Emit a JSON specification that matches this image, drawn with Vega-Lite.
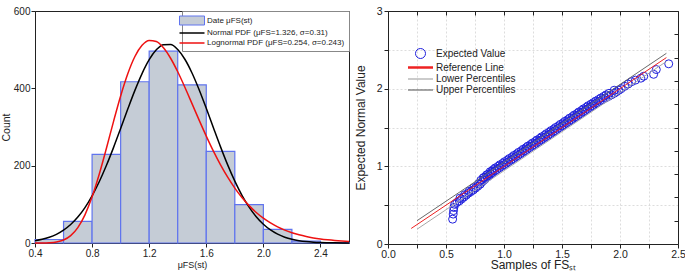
{
  "$schema": "https://vega.github.io/schema/vega-lite/v6.json",
  "padding": {"left": 0, "top": 5, "right": 0, "bottom": 0},
  "spacing": 39,
  "bounds": "flush",
  "resolve": {"scale": {"color": "independent", "x": "independent", "y": "independent", "shape": "independent", "strokeWidth": "independent", "fill": "independent", "stroke": "independent"}, "legend": {"color": "independent", "shape": "independent", "strokeWidth": "independent", "fill": "independent", "stroke": "independent"}},
  "config": {
    "font": "Liberation Sans",
    "view": {"stroke": "#222", "strokeWidth": 1},
    "axis": {"labelFont": "Liberation Sans", "titleFont": "Liberation Sans", "labelColor": "#222", "titleColor": "#222", "tickColor": "#222", "domainColor": "#222", "titleFontWeight": "normal", "grid": false}
  },
  "datasets": {
    "hist": [
      {"start": 0.4, "end": 0.6, "count": 9},
      {"start": 0.6, "end": 0.8, "count": 56},
      {"start": 0.8, "end": 1.0, "count": 229},
      {"start": 1.0, "end": 1.2, "count": 417},
      {"start": 1.2, "end": 1.4, "count": 496},
      {"start": 1.4, "end": 1.6, "count": 409},
      {"start": 1.6, "end": 1.8, "count": 237},
      {"start": 1.8, "end": 2.0, "count": 99},
      {"start": 2.0, "end": 2.2, "count": 35},
      {"start": 2.2, "end": 2.4, "count": 5},
      {"start": 2.4, "end": 2.6, "count": 1}
    ],
    "curves": [
      {"x": 0.4, "count": 5.9, "series": "Normal PDF (μFS=1.326, σ=0.31)"},
      {"x": 0.45, "count": 9.5, "series": "Normal PDF (μFS=1.326, σ=0.31)"},
      {"x": 0.5, "count": 14.8, "series": "Normal PDF (μFS=1.326, σ=0.31)"},
      {"x": 0.55, "count": 22.4, "series": "Normal PDF (μFS=1.326, σ=0.31)"},
      {"x": 0.6, "count": 33.2, "series": "Normal PDF (μFS=1.326, σ=0.31)"},
      {"x": 0.65, "count": 47.7, "series": "Normal PDF (μFS=1.326, σ=0.31)"},
      {"x": 0.7, "count": 67.0, "series": "Normal PDF (μFS=1.326, σ=0.31)"},
      {"x": 0.75, "count": 91.6, "series": "Normal PDF (μFS=1.326, σ=0.31)"},
      {"x": 0.8, "count": 122.0, "series": "Normal PDF (μFS=1.326, σ=0.31)"},
      {"x": 0.85, "count": 158.4, "series": "Normal PDF (μFS=1.326, σ=0.31)"},
      {"x": 0.9, "count": 200.3, "series": "Normal PDF (μFS=1.326, σ=0.31)"},
      {"x": 0.95, "count": 246.7, "series": "Normal PDF (μFS=1.326, σ=0.31)"},
      {"x": 1.0, "count": 296.1, "series": "Normal PDF (μFS=1.326, σ=0.31)"},
      {"x": 1.05, "count": 346.4, "series": "Normal PDF (μFS=1.326, σ=0.31)"},
      {"x": 1.1, "count": 394.7, "series": "Normal PDF (μFS=1.326, σ=0.31)"},
      {"x": 1.15, "count": 438.2, "series": "Normal PDF (μFS=1.326, σ=0.31)"},
      {"x": 1.2, "count": 474.0, "series": "Normal PDF (μFS=1.326, σ=0.31)"},
      {"x": 1.25, "count": 499.6, "series": "Normal PDF (μFS=1.326, σ=0.31)"},
      {"x": 1.3, "count": 513.0, "series": "Normal PDF (μFS=1.326, σ=0.31)"},
      {"x": 1.35, "count": 513.3, "series": "Normal PDF (μFS=1.326, σ=0.31)"},
      {"x": 1.4, "count": 500.3, "series": "Normal PDF (μFS=1.326, σ=0.31)"},
      {"x": 1.45, "count": 475.2, "series": "Normal PDF (μFS=1.326, σ=0.31)"},
      {"x": 1.5, "count": 439.8, "series": "Normal PDF (μFS=1.326, σ=0.31)"},
      {"x": 1.55, "count": 396.5, "series": "Normal PDF (μFS=1.326, σ=0.31)"},
      {"x": 1.6, "count": 348.4, "series": "Normal PDF (μFS=1.326, σ=0.31)"},
      {"x": 1.65, "count": 298.1, "series": "Normal PDF (μFS=1.326, σ=0.31)"},
      {"x": 1.7, "count": 248.6, "series": "Normal PDF (μFS=1.326, σ=0.31)"},
      {"x": 1.75, "count": 202.0, "series": "Normal PDF (μFS=1.326, σ=0.31)"},
      {"x": 1.8, "count": 159.9, "series": "Normal PDF (μFS=1.326, σ=0.31)"},
      {"x": 1.85, "count": 123.4, "series": "Normal PDF (μFS=1.326, σ=0.31)"},
      {"x": 1.9, "count": 92.7, "series": "Normal PDF (μFS=1.326, σ=0.31)"},
      {"x": 1.95, "count": 67.9, "series": "Normal PDF (μFS=1.326, σ=0.31)"},
      {"x": 2.0, "count": 48.4, "series": "Normal PDF (μFS=1.326, σ=0.31)"},
      {"x": 2.05, "count": 33.7, "series": "Normal PDF (μFS=1.326, σ=0.31)"},
      {"x": 2.1, "count": 22.8, "series": "Normal PDF (μFS=1.326, σ=0.31)"},
      {"x": 2.15, "count": 15.0, "series": "Normal PDF (μFS=1.326, σ=0.31)"},
      {"x": 2.2, "count": 9.7, "series": "Normal PDF (μFS=1.326, σ=0.31)"},
      {"x": 2.25, "count": 6.1, "series": "Normal PDF (μFS=1.326, σ=0.31)"},
      {"x": 2.3, "count": 3.7, "series": "Normal PDF (μFS=1.326, σ=0.31)"},
      {"x": 2.35, "count": 2.2, "series": "Normal PDF (μFS=1.326, σ=0.31)"},
      {"x": 2.4, "count": 1.3, "series": "Normal PDF (μFS=1.326, σ=0.31)"},
      {"x": 2.5, "count": 0.4, "series": "Normal PDF (μFS=1.326, σ=0.31)"},
      {"x": 2.6, "count": 0.1, "series": "Normal PDF (μFS=1.326, σ=0.31)"},
      {"x": 0.4, "count": 0.0, "series": "Lognormal PDF (μFS=0.254, σ=0.243)"},
      {"x": 0.45, "count": 0.1, "series": "Lognormal PDF (μFS=0.254, σ=0.243)"},
      {"x": 0.5, "count": 0.7, "series": "Lognormal PDF (μFS=0.254, σ=0.243)"},
      {"x": 0.55, "count": 2.6, "series": "Lognormal PDF (μFS=0.254, σ=0.243)"},
      {"x": 0.6, "count": 7.7, "series": "Lognormal PDF (μFS=0.254, σ=0.243)"},
      {"x": 0.65, "count": 19.1, "series": "Lognormal PDF (μFS=0.254, σ=0.243)"},
      {"x": 0.7, "count": 39.9, "series": "Lognormal PDF (μFS=0.254, σ=0.243)"},
      {"x": 0.75, "count": 72.9, "series": "Lognormal PDF (μFS=0.254, σ=0.243)"},
      {"x": 0.8, "count": 119.4, "series": "Lognormal PDF (μFS=0.254, σ=0.243)"},
      {"x": 0.85, "count": 177.9, "series": "Lognormal PDF (μFS=0.254, σ=0.243)"},
      {"x": 0.9, "count": 244.4, "series": "Lognormal PDF (μFS=0.254, σ=0.243)"},
      {"x": 0.95, "count": 314.0, "series": "Lognormal PDF (μFS=0.254, σ=0.243)"},
      {"x": 1.0, "count": 380.3, "series": "Lognormal PDF (μFS=0.254, σ=0.243)"},
      {"x": 1.05, "count": 437.8, "series": "Lognormal PDF (μFS=0.254, σ=0.243)"},
      {"x": 1.1, "count": 482.4, "series": "Lognormal PDF (μFS=0.254, σ=0.243)"},
      {"x": 1.15, "count": 511.3, "series": "Lognormal PDF (μFS=0.254, σ=0.243)"},
      {"x": 1.2, "count": 523.9, "series": "Lognormal PDF (μFS=0.254, σ=0.243)"},
      {"x": 1.25, "count": 521.2, "series": "Lognormal PDF (μFS=0.254, σ=0.243)"},
      {"x": 1.3, "count": 504.9, "series": "Lognormal PDF (μFS=0.254, σ=0.243)"},
      {"x": 1.35, "count": 477.8, "series": "Lognormal PDF (μFS=0.254, σ=0.243)"},
      {"x": 1.4, "count": 442.8, "series": "Lognormal PDF (μFS=0.254, σ=0.243)"},
      {"x": 1.45, "count": 402.9, "series": "Lognormal PDF (μFS=0.254, σ=0.243)"},
      {"x": 1.5, "count": 360.5, "series": "Lognormal PDF (μFS=0.254, σ=0.243)"},
      {"x": 1.55, "count": 317.8, "series": "Lognormal PDF (μFS=0.254, σ=0.243)"},
      {"x": 1.6, "count": 276.5, "series": "Lognormal PDF (μFS=0.254, σ=0.243)"},
      {"x": 1.65, "count": 237.6, "series": "Lognormal PDF (μFS=0.254, σ=0.243)"},
      {"x": 1.7, "count": 202.1, "series": "Lognormal PDF (μFS=0.254, σ=0.243)"},
      {"x": 1.75, "count": 170.2, "series": "Lognormal PDF (μFS=0.254, σ=0.243)"},
      {"x": 1.8, "count": 142.0, "series": "Lognormal PDF (μFS=0.254, σ=0.243)"},
      {"x": 1.85, "count": 117.6, "series": "Lognormal PDF (μFS=0.254, σ=0.243)"},
      {"x": 1.9, "count": 96.7, "series": "Lognormal PDF (μFS=0.254, σ=0.243)"},
      {"x": 1.95, "count": 79.0, "series": "Lognormal PDF (μFS=0.254, σ=0.243)"},
      {"x": 2.0, "count": 64.1, "series": "Lognormal PDF (μFS=0.254, σ=0.243)"},
      {"x": 2.05, "count": 51.8, "series": "Lognormal PDF (μFS=0.254, σ=0.243)"},
      {"x": 2.1, "count": 41.6, "series": "Lognormal PDF (μFS=0.254, σ=0.243)"},
      {"x": 2.15, "count": 33.3, "series": "Lognormal PDF (μFS=0.254, σ=0.243)"},
      {"x": 2.2, "count": 26.6, "series": "Lognormal PDF (μFS=0.254, σ=0.243)"},
      {"x": 2.25, "count": 21.1, "series": "Lognormal PDF (μFS=0.254, σ=0.243)"},
      {"x": 2.3, "count": 16.7, "series": "Lognormal PDF (μFS=0.254, σ=0.243)"},
      {"x": 2.35, "count": 13.2, "series": "Lognormal PDF (μFS=0.254, σ=0.243)"},
      {"x": 2.4, "count": 10.4, "series": "Lognormal PDF (μFS=0.254, σ=0.243)"},
      {"x": 2.45, "count": 8.2, "series": "Lognormal PDF (μFS=0.254, σ=0.243)"},
      {"x": 2.5, "count": 6.4, "series": "Lognormal PDF (μFS=0.254, σ=0.243)"},
      {"x": 2.55, "count": 5.0, "series": "Lognormal PDF (μFS=0.254, σ=0.243)"},
      {"x": 2.6, "count": 3.9, "series": "Lognormal PDF (μFS=0.254, σ=0.243)"}
    ],
    "qq": [
      {"x": 0.557, "y": 0.32}, {"x": 0.562, "y": 0.385}, {"x": 0.565, "y": 0.43}, {"x": 0.568, "y": 0.47},
      {"x": 0.575, "y": 0.51}, {"x": 0.595, "y": 0.535}, {"x": 0.615, "y": 0.555}, {"x": 0.635, "y": 0.58},
      {"x": 0.655, "y": 0.605}, {"x": 0.675, "y": 0.63}, {"x": 0.695, "y": 0.655}, {"x": 0.715, "y": 0.675},
      {"x": 0.735, "y": 0.695}, {"x": 0.755, "y": 0.72}, {"x": 0.775, "y": 0.745}, {"x": 0.795, "y": 0.77},
      {"x": 0.81, "y": 0.80}, {"x": 0.825, "y": 0.82}, {"x": 0.84, "y": 0.84}, {"x": 0.855, "y": 0.86},
      {"x": 0.87, "y": 0.88}, {"x": 0.885, "y": 0.90}, {"x": 0.90, "y": 0.92}, {"x": 0.92, "y": 0.94},
      {"x": 0.94, "y": 0.96}, {"x": 0.96, "y": 0.98}, {"x": 0.98, "y": 1.00}, {"x": 1.00, "y": 1.02},
      {"x": 1.02, "y": 1.04}, {"x": 1.04, "y": 1.06}, {"x": 1.06, "y": 1.08}, {"x": 1.08, "y": 1.10},
      {"x": 1.10, "y": 1.12}, {"x": 1.12, "y": 1.14}, {"x": 1.14, "y": 1.16}, {"x": 1.16, "y": 1.18},
      {"x": 1.18, "y": 1.20}, {"x": 1.20, "y": 1.22}, {"x": 1.22, "y": 1.24}, {"x": 1.24, "y": 1.26},
      {"x": 1.26, "y": 1.28}, {"x": 1.28, "y": 1.30}, {"x": 1.30, "y": 1.32}, {"x": 1.32, "y": 1.34},
      {"x": 1.34, "y": 1.36}, {"x": 1.36, "y": 1.38}, {"x": 1.38, "y": 1.40}, {"x": 1.40, "y": 1.42},
      {"x": 1.42, "y": 1.44}, {"x": 1.44, "y": 1.46}, {"x": 1.46, "y": 1.48}, {"x": 1.48, "y": 1.50},
      {"x": 1.50, "y": 1.52}, {"x": 1.52, "y": 1.54}, {"x": 1.54, "y": 1.56}, {"x": 1.56, "y": 1.58},
      {"x": 1.58, "y": 1.60}, {"x": 1.60, "y": 1.62}, {"x": 1.62, "y": 1.64}, {"x": 1.64, "y": 1.66},
      {"x": 1.66, "y": 1.68}, {"x": 1.68, "y": 1.70}, {"x": 1.70, "y": 1.72}, {"x": 1.72, "y": 1.74},
      {"x": 1.74, "y": 1.76}, {"x": 1.76, "y": 1.78}, {"x": 1.78, "y": 1.80}, {"x": 1.80, "y": 1.82},
      {"x": 1.825, "y": 1.84}, {"x": 1.85, "y": 1.86}, {"x": 1.875, "y": 1.88}, {"x": 1.90, "y": 1.90},
      {"x": 1.925, "y": 1.92}, {"x": 1.95, "y": 1.94}, {"x": 1.97, "y": 1.96}, {"x": 1.99, "y": 1.98},
      {"x": 2.01, "y": 2.00}, {"x": 2.04, "y": 2.03}, {"x": 2.07, "y": 2.06}, {"x": 2.10, "y": 2.09},
      {"x": 2.133, "y": 2.11}, {"x": 2.18, "y": 2.135}, {"x": 2.205, "y": 2.16}, {"x": 2.29, "y": 2.185},
      {"x": 2.313, "y": 2.246}, {"x": 2.42, "y": 2.32},
      {"x": 0.62, "y": 0.59}, {"x": 0.66, "y": 0.635}, {"x": 0.70, "y": 0.68}, {"x": 0.74, "y": 0.725},
      {"x": 0.78, "y": 0.775}, {"x": 0.80, "y": 0.82}, {"x": 0.83, "y": 0.86}, {"x": 0.865, "y": 0.90},
      {"x": 0.895, "y": 0.94}, {"x": 0.925, "y": 0.98}, {"x": 0.965, "y": 1.02}, {"x": 1.005, "y": 1.06},
      {"x": 1.045, "y": 1.10}, {"x": 1.085, "y": 1.14}, {"x": 1.125, "y": 1.18}, {"x": 1.165, "y": 1.22},
      {"x": 1.205, "y": 1.26}, {"x": 1.245, "y": 1.30}, {"x": 1.285, "y": 1.34}, {"x": 1.325, "y": 1.38},
      {"x": 1.365, "y": 1.42}, {"x": 1.405, "y": 1.46}, {"x": 1.445, "y": 1.50}, {"x": 1.485, "y": 1.54},
      {"x": 1.525, "y": 1.58}, {"x": 1.565, "y": 1.62}, {"x": 1.605, "y": 1.66}, {"x": 1.645, "y": 1.70},
      {"x": 1.685, "y": 1.74}, {"x": 1.725, "y": 1.78}, {"x": 1.77, "y": 1.82}, {"x": 1.815, "y": 1.86},
      {"x": 1.86, "y": 1.90}, {"x": 1.905, "y": 1.94}, {"x": 1.95, "y": 1.98},
      {"x": 0.82, "y": 0.85}, {"x": 0.85, "y": 0.89}, {"x": 0.88, "y": 0.93}, {"x": 0.91, "y": 0.96},
      {"x": 0.95, "y": 1.00}, {"x": 0.99, "y": 1.04}, {"x": 1.03, "y": 1.08}, {"x": 1.07, "y": 1.12},
      {"x": 1.11, "y": 1.16}, {"x": 1.15, "y": 1.20}, {"x": 1.19, "y": 1.24}, {"x": 1.23, "y": 1.28},
      {"x": 1.27, "y": 1.32}, {"x": 1.31, "y": 1.36}, {"x": 1.35, "y": 1.40}, {"x": 1.39, "y": 1.44},
      {"x": 1.43, "y": 1.48}, {"x": 1.47, "y": 1.52}, {"x": 1.51, "y": 1.56}, {"x": 1.55, "y": 1.60},
      {"x": 1.59, "y": 1.64}, {"x": 1.63, "y": 1.68}, {"x": 1.67, "y": 1.72}, {"x": 1.71, "y": 1.76},
      {"x": 1.75, "y": 1.80}, {"x": 1.79, "y": 1.84}, {"x": 1.835, "y": 1.88}, {"x": 1.88, "y": 1.92}
    ],
    "refs": [
      {"x": 0.2, "y": 0.2, "series": "Reference Line"},
      {"x": 2.4, "y": 2.4, "series": "Reference Line"},
      {"x": 0.25, "y": 0.19, "series": "Lower Percentiles"},
      {"x": 2.4, "y": 2.35, "series": "Lower Percentiles"},
      {"x": 0.25, "y": 0.3, "series": "Upper Percentiles"},
      {"x": 2.4, "y": 2.455, "series": "Upper Percentiles"}
    ]
  },
  "hconcat": [
    {
      "width": 314,
      "height": 232,
      "layer": [
        {
          "data": {"name": "hist"},
          "mark": {"type": "rect", "fill": "#c5ccd6", "stroke": "#6074ee", "strokeWidth": 1.2},
          "encoding": {
            "x": {"field": "start", "type": "quantitative", "scale": {"domain": [0.4, 2.6], "nice": false},
              "axis": {"title": "μFS(st)", "titleFontSize": 9, "titlePadding": 2, "labelFontSize": 10, "tickSize": 4, "labelPadding": 1,
                "values": [0.4, 0.6, 0.8, 1.0, 1.2, 1.4, 1.6, 1.8, 2.0, 2.2, 2.4, 2.6], "format": ".1f", "labelFlush": false}},
            "x2": {"field": "end"},
            "y": {"field": "count", "type": "quantitative", "scale": {"domain": [0, 600], "nice": false},
              "axis": {"title": "Count", "titleFontSize": 10.5, "titlePadding": 2, "labelFontSize": 10, "labelPadding": 1,
                "values": [0, 100, 200, 300, 400, 500, 600],
                "labelExpr": "datum.value % 200 === 0 ? datum.label : ''",
                "tickSize": {"condition": {"test": "datum.value % 200 === 0", "value": 4}, "value": 2.5}}},
            "y2": {"datum": 0}
          }
        },
        {
          "data": {"name": "curves"},
          "mark": {"type": "line", "strokeWidth": 1.5, "interpolate": "monotone"},
          "encoding": {
            "x": {"field": "x", "type": "quantitative"},
            "y": {"field": "count", "type": "quantitative"},
            "color": {"field": "series", "type": "nominal", "legend": null,
              "scale": {"domain": ["Normal PDF (μFS=1.326, σ=0.31)", "Lognormal PDF (μFS=0.254, σ=0.243)"], "range": ["#000000", "#ee1111"]}}
          }
        },
        {
          "data": {"name": "curves"},
          "mark": {"type": "point", "opacity": 0, "size": 64},
          "encoding": {
            "x": {"field": "x", "type": "quantitative"},
            "y": {"field": "count", "type": "quantitative"},
            "fill": {"field": "series", "type": "nominal",
              "scale": {"domain": ["Date μFS(st)", "Normal PDF (μFS=1.326, σ=0.31)", "Lognormal PDF (μFS=0.254, σ=0.243)"],
                "range": ["#c5ccd6", "transparent", "transparent"]},
              "legend": {"title": null, "orient": "top-right", "offset": 0, "strokeColor": "#888", "padding": 4,
                "labelFontSize": 8, "labelFont": "Liberation Sans", "labelColor": "#222", "rowPadding": 0, "labelOffset": 9, "symbolOpacity": 1}},
            "stroke": {"field": "series", "type": "nominal",
              "scale": {"domain": ["Date μFS(st)", "Normal PDF (μFS=1.326, σ=0.31)", "Lognormal PDF (μFS=0.254, σ=0.243)"],
                "range": ["#6074ee", "#000000", "#ee1111"]},
              "legend": {"title": null, "orient": "top-right", "offset": 0, "strokeColor": "#888", "padding": 4,
                "labelFontSize": 8, "labelFont": "Liberation Sans", "labelColor": "#222", "rowPadding": 0, "labelOffset": 9, "symbolOpacity": 1}},
            "shape": {"field": "series", "type": "nominal",
              "scale": {"domain": ["Date μFS(st)", "Normal PDF (μFS=1.326, σ=0.31)", "Lognormal PDF (μFS=0.254, σ=0.243)"],
                "range": ["M-2.5,-0.9H2.5V0.9H-2.5Z", "M-2.5,0H2.5", "M-2.5,0H2.5"]},
              "legend": {"title": null, "orient": "top-right", "offset": 0, "strokeColor": "#888", "padding": 4,
                "labelFontSize": 8, "labelFont": "Liberation Sans", "labelColor": "#222", "rowPadding": 0, "labelOffset": 9, "symbolOpacity": 1}},
            "strokeWidth": {"field": "series", "type": "nominal",
              "scale": {"type": "ordinal", "domain": ["Date μFS(st)", "Normal PDF (μFS=1.326, σ=0.31)", "Lognormal PDF (μFS=0.254, σ=0.243)"],
                "range": [1, 1.5, 1.5]},
              "legend": {"title": null, "orient": "top-right", "offset": 0, "strokeColor": "#888", "padding": 4,
                "labelFontSize": 8, "labelFont": "Liberation Sans", "labelColor": "#222", "rowPadding": 0, "labelOffset": 9, "symbolOpacity": 1}}
          }
        },
        {
          "mark": {"type": "text", "font": "Liberation Serif", "fontSize": 22, "align": "center", "baseline": "middle", "color": "#111"},
          "encoding": {
            "x": {"datum": 0.564, "type": "quantitative"},
            "y": {"datum": 545, "type": "quantitative"},
            "text": {"value": "(a)"}
          }
        }
      ]
    },
    {
      "width": 290,
      "height": 233,
      "resolve": {"axis": {"x": "independent", "y": "independent"}},
      "layer": [
        {
          "data": {"name": "qq"},
          "transform": [{"calculate": "'Expected Value'", "as": "series"}],
          "mark": {"type": "point", "filled": false, "size": 64, "opacity": 1},
          "encoding": {
            "x": {"field": "x", "type": "quantitative", "scale": {"domain": [0, 2.5], "nice": false},
              "axis": {"title": "Samples of FSₛₜ", "titleFontSize": 12, "titlePadding": 0, "labelFontSize": 10.5, "tickSize": 4, "labelPadding": 1,
                "values": [0, 0.25, 0.5, 0.75, 1.0, 1.25, 1.5, 1.75, 2.0, 2.25, 2.5],
                "labelExpr": "(datum.value * 2) % 1 === 0 ? format(datum.value, '.1f') : ''",
                "labelFlush": false,
                "grid": true, "gridColor": "#d4d4d4", "gridDash": [2, 2], "gridWidth": 0.8}},
            "y": {"field": "y", "type": "quantitative", "scale": {"domain": [0, 3], "nice": false},
              "axis": {"title": "Expected Normal Value", "titleFontSize": 12, "titlePadding": 9, "labelFontSize": 10.5, "tickSize": 4, "labelPadding": 2,
                "values": [0, 0.5, 1, 1.5, 2, 2.5, 3],
                "labelExpr": "datum.value % 1 === 0 ? format(datum.value, 'd') : ''",
                "grid": true, "gridColor": "#d4d4d4", "gridDash": [2, 2], "gridWidth": 0.8}},
            "color": {"field": "series", "type": "nominal",
              "scale": {"domain": ["Expected Value", "Reference Line", "Lower Percentiles", "Upper Percentiles"],
                "range": ["#2020dd", "#ee2222", "#a8a8a8", "#6a6a6a"]},
              "legend": {"title": null, "orient": "none", "legendX": 26, "legendY": 37, "padding": 0,
                "labelFontSize": 10, "labelFont": "Liberation Sans", "labelColor": "#222", "rowPadding": 0, "labelOffset": 9}},
            "shape": {"field": "series", "type": "nominal",
              "scale": {"domain": ["Expected Value", "Reference Line", "Lower Percentiles", "Upper Percentiles"],
                "range": ["circle", "M-2.5,0H2.5", "M-2.5,0H2.5", "M-2.5,0H2.5"]},
              "legend": {"title": null, "orient": "none", "legendX": 26, "legendY": 37, "padding": 0,
                "labelFontSize": 10, "labelFont": "Liberation Sans", "labelColor": "#222", "rowPadding": 0, "labelOffset": 9}},
            "strokeWidth": {"field": "series", "type": "nominal",
              "scale": {"type": "ordinal", "domain": ["Expected Value", "Reference Line", "Lower Percentiles", "Upper Percentiles"],
                "range": [1, 2.5, 1.2, 1.2]},
              "legend": {"title": null, "orient": "none", "legendX": 26, "legendY": 37, "padding": 0,
                "labelFontSize": 10, "labelFont": "Liberation Sans", "labelColor": "#222", "rowPadding": 0, "labelOffset": 9}}
          }
        },
        {
          "data": {"name": "refs"},
          "mark": {"type": "line", "strokeWidth": 1},
          "encoding": {
            "x": {"field": "x", "type": "quantitative",
              "axis": {"orient": "top", "title": null, "labels": false, "tickSize": -4, "values": [0, 0.25, 0.5, 0.75, 1.0, 1.25, 1.5, 1.75, 2.0, 2.25, 2.5]}},
            "y": {"field": "y", "type": "quantitative",
              "axis": {"orient": "right", "title": null, "labels": false, "tickSize": -4, "values": [0.3, 0.6, 0.9, 1.2, 1.5, 1.8, 2.1, 2.4, 2.7]}},
            "color": {"field": "series", "type": "nominal"},
            "detail": {"field": "series"}
          }
        },
        {
          "mark": {"type": "text", "font": "Liberation Serif", "fontSize": 22, "align": "center", "baseline": "middle", "color": "#111"},
          "encoding": {
            "x": {"datum": 0.2026, "type": "quantitative", "axis": null},
            "y": {"datum": 2.735, "type": "quantitative", "axis": null},
            "text": {"value": "(b)"}
          }
        }
      ]
    }
  ]
}
